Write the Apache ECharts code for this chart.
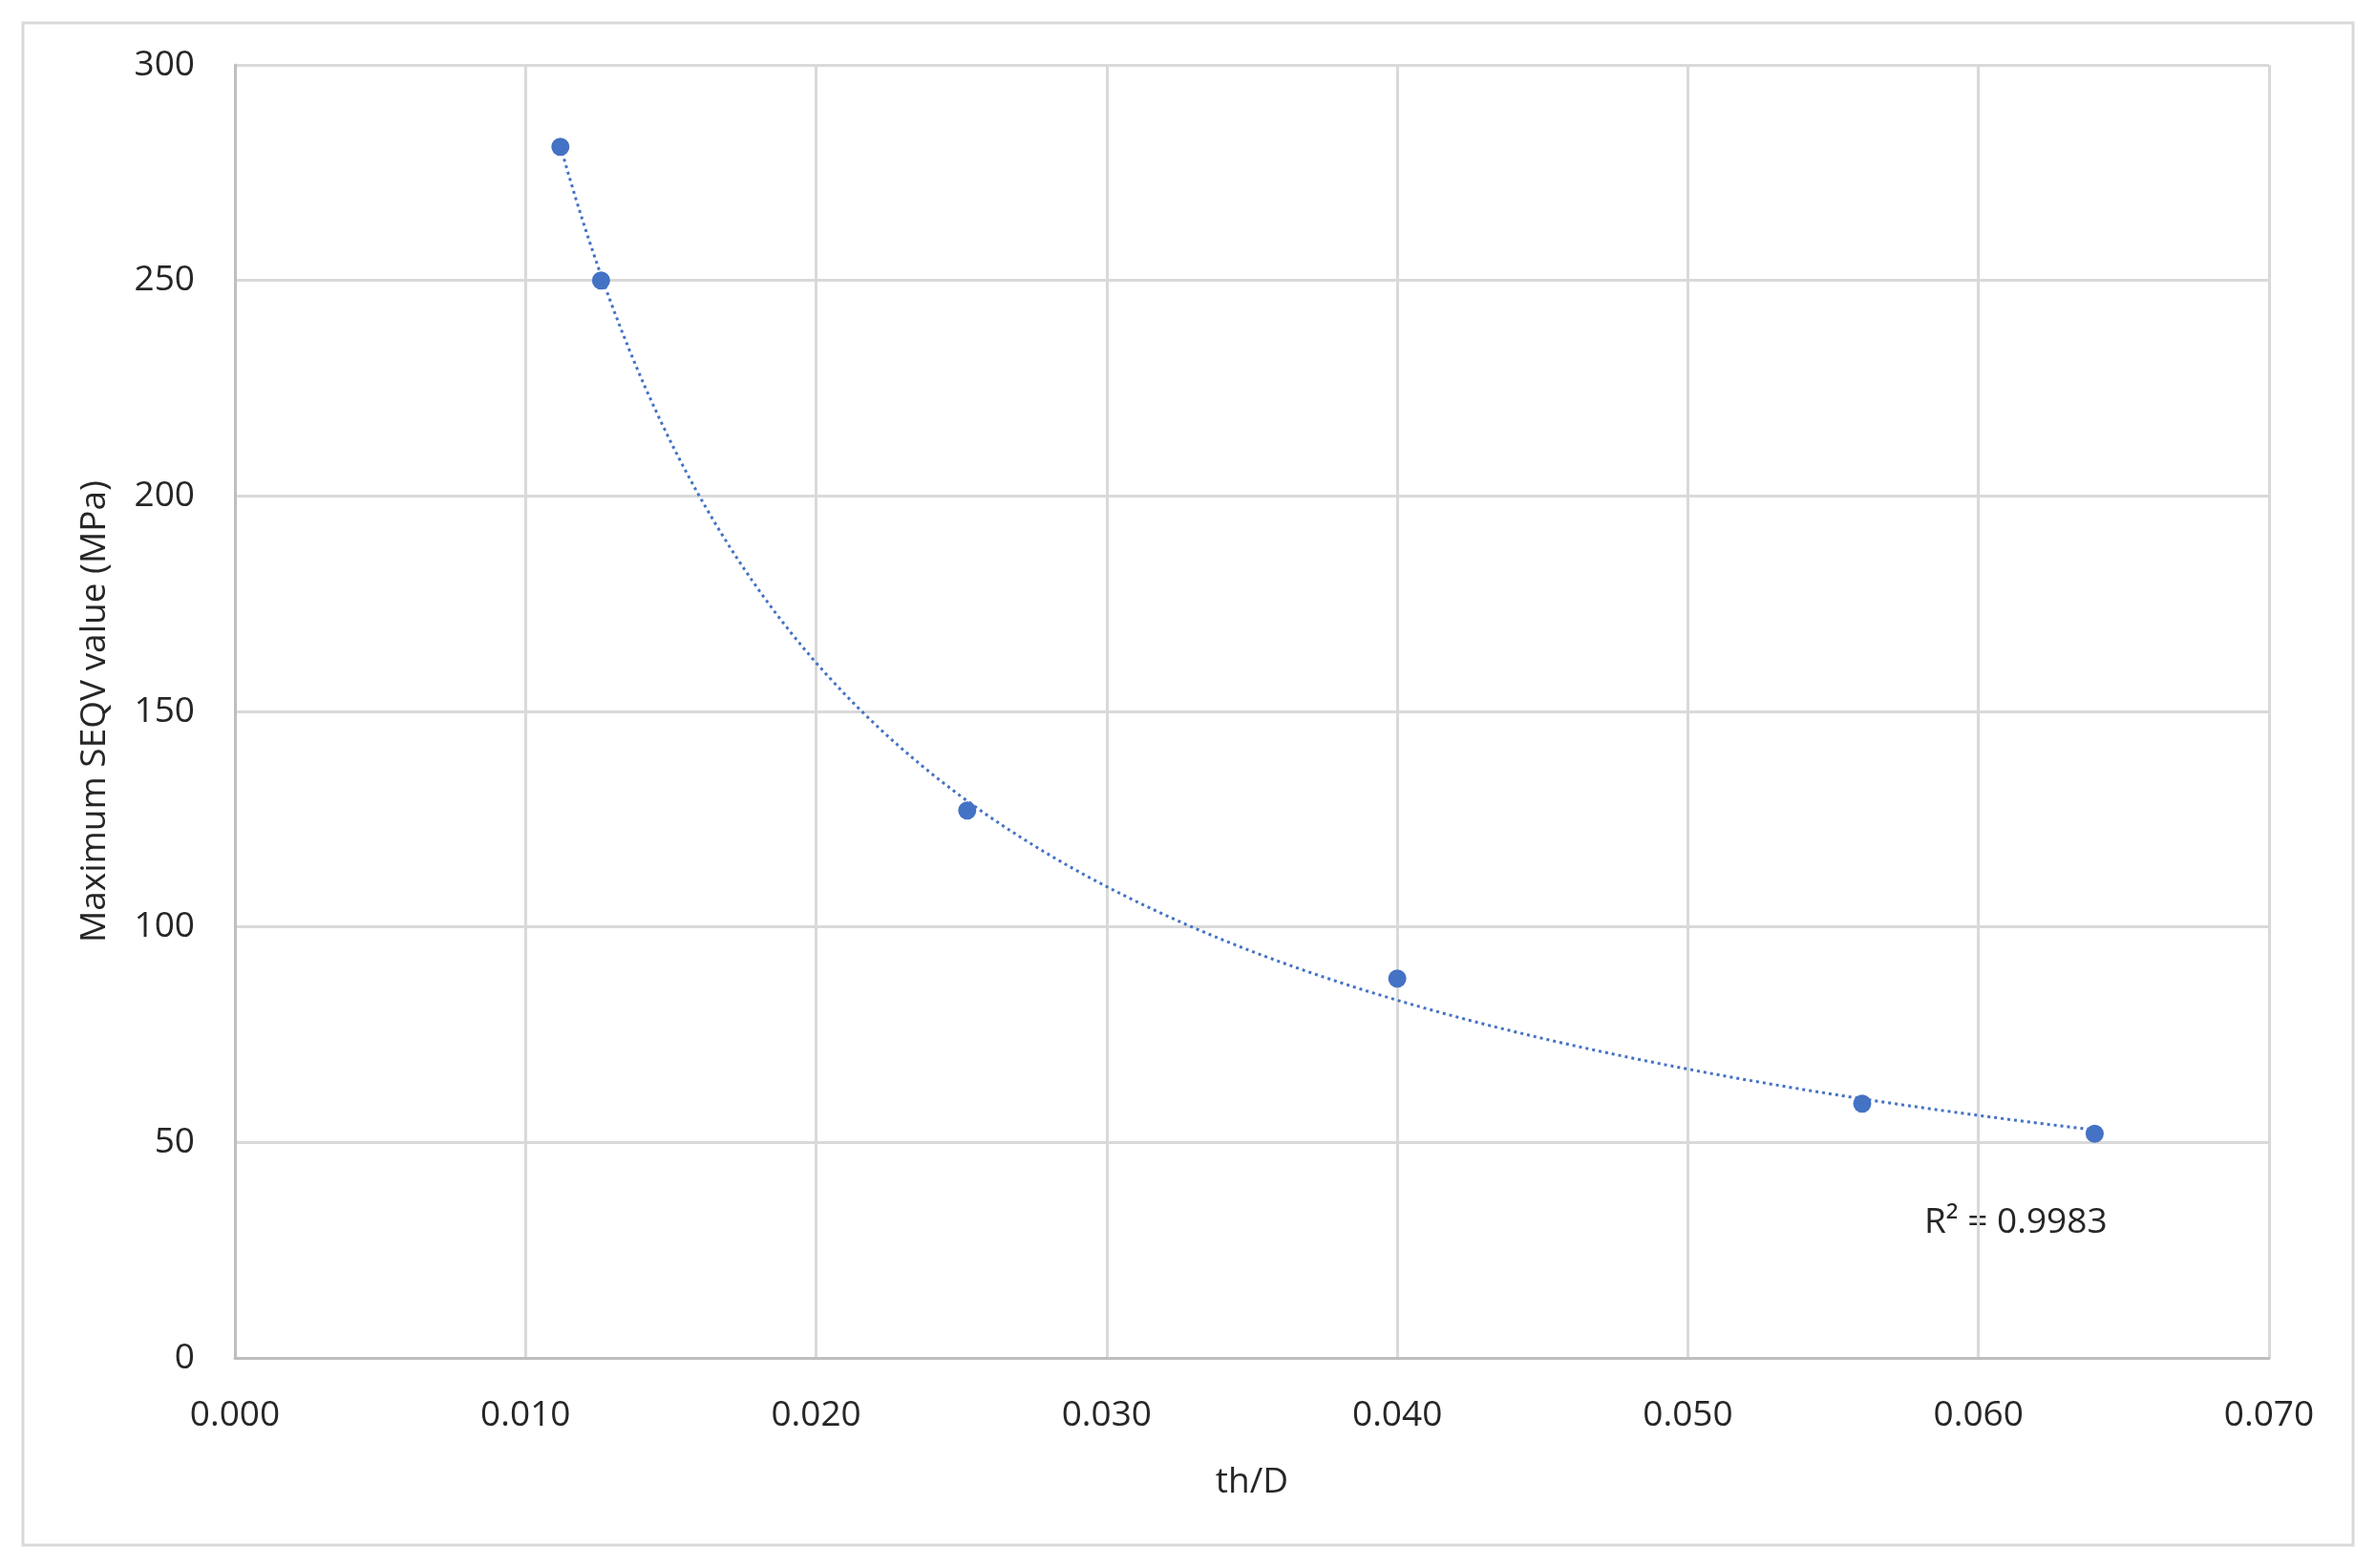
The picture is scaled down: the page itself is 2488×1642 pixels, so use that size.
<!DOCTYPE html>
<html><head><meta charset="utf-8">
<script src="https://cdn.jsdelivr.net/npm/echarts@6/dist/echarts.min.js"></script>
<style>html,body{margin:0;padding:0;background:#fff}#c{width:2488px;height:1642px}</style>
</head><body><div id="c"></div>
<script>
const thD = [0.0112, 0.0126, 0.0252, 0.0400, 0.0560, 0.0640];
const seqv = [281, 250, 127, 88, 59, 52];
const xTicks = [0, 0.01, 0.02, 0.03, 0.04, 0.05, 0.06, 0.07];
const yTicks = [0, 50, 100, 150, 200, 250, 300];
const r2Label = 'R² = 0.9983';

// power-law trendline (least squares on logs), as in the spreadsheet trendline
let n = thD.length, sx = 0, sy = 0, sxx = 0, sxy = 0;
for (let i = 0; i < n; i++) { const lx = Math.log(thD[i]), ly = Math.log(seqv[i]); sx += lx; sy += ly; sxx += lx*lx; sxy += lx*ly; }
const b = (n*sxy - sx*sy) / (n*sxx - sx*sx), a = Math.exp((sy - b*sx)/n);
const trend = [];
const x0 = thD[0], x1 = thD[n-1];
for (let k = 0; k <= 200; k++) { const x = x0 + (x1 - x0)*k/200; trend.push([x, a*Math.pow(x, b)]); }

const font = '"Open Sans", "Noto Sans", sans-serif';
const txt = '#262626';
const chart = echarts.init(document.getElementById('c'));
chart.setOption({
  backgroundColor: '#fff',
  animation: false,
  graphic: [
    {type: 'rect', shape: {x: 24, y: 24, width: 2440, height: 1594}, style: {fill: 'none', stroke: '#d9d9d9', lineWidth: 3}},
    {type: 'text', left: 2015, top: 1262, style: {text: r2Label, fontSize: 37, fill: txt, fontFamily: font}}
  ],
  grid: {left: 246, right: 112, top: 68, bottom: 220},
  xAxis: {
    type: 'value', min: 0, max: 0.07, interval: 0.01,
    name: 'th/D', nameLocation: 'middle', nameGap: 112,
    nameTextStyle: {fontSize: 37, color: txt, fontFamily: font},
    axisLabel: {fontSize: 37, color: txt, margin: 42, fontFamily: font, formatter: v => v.toFixed(3)},
    axisLine: {lineStyle: {color: '#bfbfbf', width: 3}},
    axisTick: {show: false},
    splitLine: {lineStyle: {color: '#d9d9d9', width: 3}}
  },
  yAxis: {
    type: 'value', min: 0, max: 300, interval: 50,
    name: 'Maximum SEQV value (MPa)', nameLocation: 'middle', nameGap: 128,
    nameTextStyle: {fontSize: 37, color: txt, fontFamily: font},
    axisLabel: {fontSize: 37, color: txt, margin: 42, fontFamily: font},
    axisLine: {show: true, lineStyle: {color: '#bfbfbf', width: 3}},
    axisTick: {show: false},
    splitLine: {lineStyle: {color: '#d9d9d9', width: 3}}
  },
  series: [
    {type: 'line', data: trend, showSymbol: false, smooth: false,
     lineStyle: {color: '#4472C4', width: 3, type: [3, 4]}, z: 2},
    {type: 'scatter', data: thD.map((x, i) => [x, seqv[i]]), symbolSize: 19,
     itemStyle: {color: '#4472C4', opacity: 1}, z: 3}
  ]
});
</script></body></html>
